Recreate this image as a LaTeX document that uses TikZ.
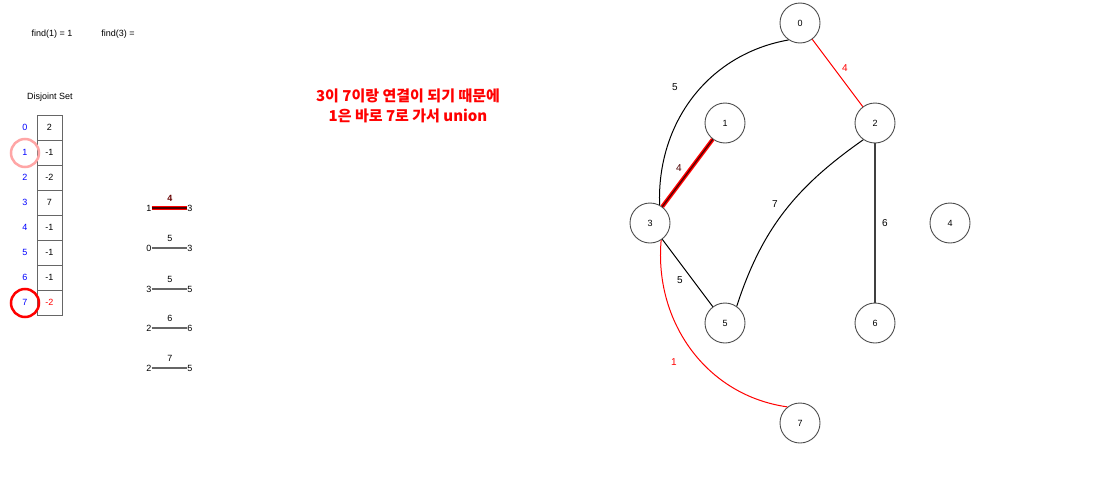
\documentclass[tikz,border=0pt]{standalone}
\usepackage{fontspec}
\setmainfont{Liberation Sans}
\newfontfamily\kr{Noto Sans CJK KR}
\begin{document}
\begin{tikzpicture}[x=1pt,y=-1pt,
  vtx/.style={circle,draw=black!70,line width=0.9pt,minimum size=40pt,inner sep=0pt,font=\fontsize{9}{10}\selectfont},
  edge/.style={line width=1pt,black},
  redge/.style={line width=1pt,red},
  wlab/.style={font=\fontsize{10}{11}\selectfont,inner sep=0pt},
  small/.style={font=\fontsize{9}{10}\selectfont,inner sep=0pt},
  cell/.style={draw=black!60,line width=0.7pt,minimum width=25pt,minimum height=25pt,inner sep=0pt,font=\fontsize{9}{10}\selectfont},
  idx/.style={font=\fontsize{9}{10}\selectfont,blue,inner sep=0pt},
  lst/.style={line width=1.5pt,black!60},
  ]
\useasboundingbox (0,0) rectangle (1106,482);
% top texts
\node[small] (f1) at (52,34) {find(1) = 1};
\node[small] (f3) at (118,34) {find(3) =};
\node[small] (ds) at (50,97) {Disjoint Set};
% table
\foreach \i/\v in {0/2,1/-1,2/-2,3/7,4/-1,5/-1,6/-1}{
  \node[cell] (c\i) at (49.5,{127.5+25*\i}) {\v};
  \node[idx] (i\i) at (25,{127.5+25*\i}) {\i};
}
\node[cell,text=red] (c7) at (49.5,302.5) {-2};
\node[idx] (i7) at (25,302.5) {7};
\node[draw=red!35,line width=2.5pt,circle,minimum size=28pt] (h1) at (25,153) {};
\node[draw=red,line width=2.5pt,circle,minimum size=28pt] (h7) at (25,303) {};
% edge list
\node[small,inner sep=0pt] (la1) at (149,208) {1};
\node[small,inner sep=0pt] (lb1) at (190,208) {3};
\draw[red,line width=4pt] (la1.east) -- (lb1.west);
\draw[black!70!red,line width=1.2pt] (la1.east) -- (lb1.west);
\node[small,text=black!60!red,font=\fontsize{9}{10}\selectfont\bfseries] (w1) at (170,198) {4};
\foreach \k/\a/\b/\w/\yy in {2/0/3/5/248,3/3/5/5/289,4/2/6/6/328,5/2/5/7/368}{
  \node[small] (la\k) at (149,\yy) {\a};
  \node[small] (lb\k) at (190,\yy) {\b};
  \draw[lst] (la\k.east) -- (lb\k.west);
  \node[small] (w\k) at (170,{\yy-10}) {\w};
}
% Korean text
\node[text=red,align=center,font=\kr\bfseries\fontsize{15}{19.5}\selectfont,inner sep=0pt] (kt) at (408,106) {3이 7이랑 연결이 되기 때문에\\1은 바로 7로 가서 union};
% graph
\node[vtx] (n0) at (800,23) {0};
\node[vtx] (n1) at (725,123) {1};
\node[vtx] (n2) at (875,123) {2};
\node[vtx] (n3) at (650,223) {3};
\node[vtx] (n4) at (950,223) {4};
\node[vtx] (n5) at (725,323) {5};
\node[vtx] (n6) at (875,323) {6};
\node[vtx] (n7) at (800,423) {7};
\draw[edge] (n0.236) to[out=190,in=92] (n3.62);
\draw[redge] (n0) -- (n2);
\draw[red,line width=4pt] (n1) -- (n3);
\draw[black!70!red,line width=1.2pt] (n1) -- (n3);
\draw[edge] (n2.235) to[out=215,in=72] (n5.55);
\draw[line width=1.5pt,black!75] (n2) -- (n6);
\draw[edge] (n3) -- (n5);
\draw[redge] (n3.303) to[out=265,in=172] (n7.128);
\node[wlab] (e03) at (675,87) {5};
\node[wlab,red] (e02) at (845,68) {4};
\node[wlab,text=black!70!red] (e13) at (679,168) {4};
\node[wlab] (e25) at (775,204) {7};
\node[wlab] (e26) at (885,223) {6};
\node[wlab] (e35) at (680,280) {5};
\node[wlab,red] (e37) at (674,362) {1};
\end{tikzpicture}
\end{document}
